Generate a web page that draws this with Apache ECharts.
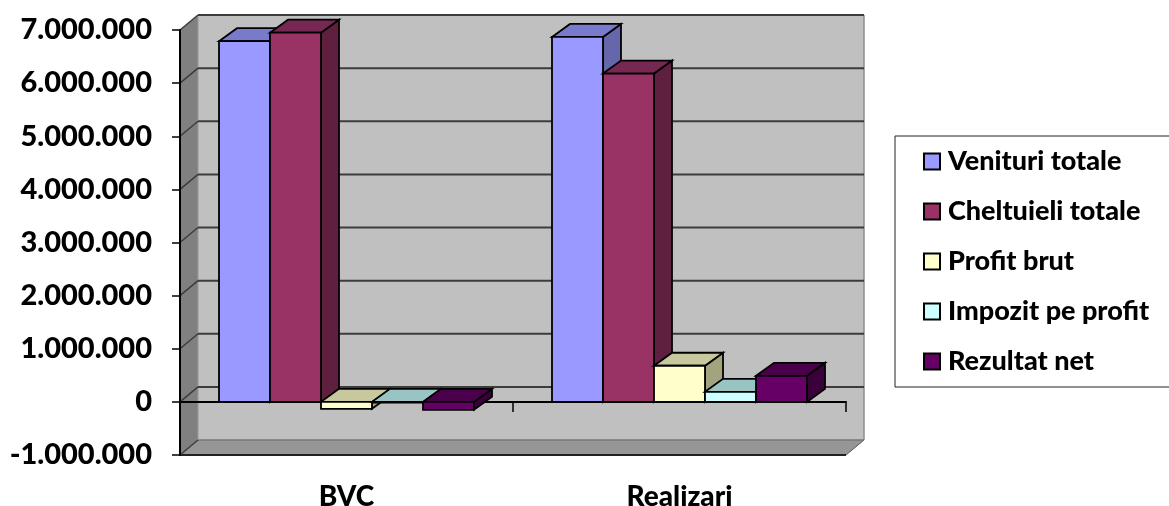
<!DOCTYPE html>
<html><head><meta charset="utf-8">
<style>html,body{margin:0;padding:0;background:#fff}#c{width:1169px;height:506px}</style>
<script src="https://cdn.jsdelivr.net/npm/echarts@6/dist/echarts.min.js"></script>
</head><body><div id="c"></div>
<script>
const categories = ['BVC', 'Realizari'];
const venituriTotale = [6790000, 6870000];
const cheltuieliTotale = [6950000, 6180000];
const profitBrut = [-130000, 680000];
const impozitPeProfit = [-15000, 190000];
const rezultatNet = [-150000, 490000];
const yTicks = [-1000000, 0, 1000000, 2000000, 3000000, 4000000, 5000000, 6000000, 7000000];
const yTickLabels = ['-1.000.000', '0', '1.000.000', '2.000.000', '3.000.000', '4.000.000', '5.000.000', '6.000.000', '7.000.000'];

const FONT = 'Lato';
const WALL_DX = 18, WALL_DY = -15, BAR_DX = 18, BAR_DY = -13;
const BAR_RATIO = 51 / 333;
const seriesDefs = [
  { name: 'Venituri totale', values: venituriTotale, front: '#9999ff', top: '#7a7acc', side: '#6666aa' },
  { name: 'Cheltuieli totale', values: cheltuieliTotale, front: '#993366', top: '#762852', side: '#5f2040' },
  { name: 'Profit brut', values: profitBrut, front: '#ffffcc', top: '#c8c89f', side: '#a3a380' },
  { name: 'Impozit pe profit', values: impozitPeProfit, front: '#ccffff', top: '#99c4c4', side: '#88aaaa' },
  { name: 'Rezultat net', values: rezultatNet, front: '#660066', top: '#4a004a', side: '#3a003a' }
];

function poly(points, fill, stroke, lw) {
  return { type: 'polygon', shape: { points }, style: { fill, stroke: stroke || 'none', lineWidth: lw || 0 } };
}
function line(x1, y1, x2, y2, stroke, lw) {
  return { type: 'line', shape: { x1, y1, x2, y2 }, style: { stroke, lineWidth: lw } };
}

function renderWalls(params, api) {
  const g = params.coordSys;
  const xl = g.x, xr = g.x + g.width, yt = g.y, yb = g.y + g.height;
  const y = api.coord([0, api.value(0)])[1];
  const children = [];
  if (params.dataIndex === 0) {
    children.push(
      poly([[xl + WALL_DX, yt + WALL_DY], [xr + WALL_DX, yt + WALL_DY], [xr + WALL_DX, yb + WALL_DY], [xl + WALL_DX, yb + WALL_DY]], '#c0c0c0'),
      poly([[xl, yt], [xl + WALL_DX, yt + WALL_DY], [xl + WALL_DX, yb + WALL_DY], [xl, yb]], '#808080'),
      poly([[xl, yb], [xl + WALL_DX, yb + WALL_DY], [xr + WALL_DX, yb + WALL_DY], [xr, yb]], '#969696'),
      line(xr + WALL_DX, yt + WALL_DY, xr + WALL_DX, yb + WALL_DY, '#8c8c8c', 1.5),
      line(xr, yb, xr + WALL_DX, yb + WALL_DY, '#555', 1),
      line(xl + WALL_DX, yb + WALL_DY, xr + WALL_DX, yb + WALL_DY, '#777', 1.5),
      line(xl + WALL_DX, yt + WALL_DY, xl + WALL_DX, yb + WALL_DY, '#999', 1),
      line(xl, yb, xr, yb, '#222', 2)
    );
  } else {
    children.push(line(xl + WALL_DX, y + WALL_DY, xr + WALL_DX, y + WALL_DY, '#3c3c3c', 2));
  }
  children.push(line(xl, y, xl + WALL_DX, y + WALL_DY, '#3c3c3c', 1.5));
  return { type: 'group', children };
}

function barRenderer(def, index) {
  return function (params, api) {
    const cat = api.value(0), val = api.value(1);
    const band = api.size([1, 0])[0];
    const w = band * BAR_RATIO;
    const cx = api.coord([cat, 0])[0];
    const x0 = cx + (index - seriesDefs.length / 2) * w;
    const x1 = x0 + w;
    const y0 = api.coord([cat, 0])[1], yv = api.coord([cat, val])[1];
    const t = Math.min(y0, yv), b = Math.max(y0, yv);
    const s = '#000', lw = 1.8;
    return {
      type: 'group',
      children: [
        poly([[x1, t], [x1 + BAR_DX, t + BAR_DY], [x1 + BAR_DX, b + BAR_DY], [x1, b]], def.side, s, lw),
        poly([[x0, t], [x0 + BAR_DX, t + BAR_DY], [x1 + BAR_DX, t + BAR_DY], [x1, t]], def.top, s, lw),
        poly([[x0, t], [x1, t], [x1, b], [x0, b]], def.front, s, lw)
      ]
    };
  };
}

const chart = echarts.init(document.getElementById('c'), null, { renderer: 'canvas' });
chart.setOption({
  animation: false,
  backgroundColor: '#fff',
  textStyle: { fontFamily: FONT },
  grid: { left: 180, right: 323, top: 30, bottom: 51, containLabel: false, outerBoundsMode: 'none' },
  xAxis: {
    type: 'category', data: categories,
    axisLine: { onZero: true, lineStyle: { color: '#000', width: 2 } },
    axisTick: { show: true, alignWithLabel: false, length: 10, lineStyle: { color: '#000', width: 1.5 } },
    axisLabel: { color: '#000', fontFamily: FONT, fontWeight: 900, fontSize: 28, verticalAlign: 'middle', margin: 42 }
  },
  yAxis: {
    type: 'value', min: -1000000, max: 7000000, interval: 1000000,
    axisLine: { show: true, lineStyle: { color: '#000', width: 2 } },
    axisTick: { show: true, length: 8, lineStyle: { color: '#000', width: 1.5 } },
    splitLine: { show: false },
    axisLabel: {
      color: '#000', fontFamily: FONT, fontWeight: 900, fontSize: 29, margin: 28,
      formatter: v => yTickLabels[yTicks.indexOf(v)]
    }
  },
  legend: {
    orient: 'vertical', left: 895, top: 136,
    padding: [12, 60, 12, 28],
    icon: 'rect',
    itemWidth: 16, itemHeight: 16, itemGap: 23,
    backgroundColor: '#fff', borderColor: '#222', borderWidth: 1,
    data: seriesDefs.map(d => d.name),
    itemStyle: { borderColor: '#000', borderWidth: 2 },
    textStyle: { color: '#000', fontFamily: FONT, fontWeight: 900, fontSize: 27, lineHeight: 25, padding: [0, 0, 0, 3] }
  },
  series: [
    { type: 'custom', id: 'walls', silent: true, z: -1, clip: false, renderItem: renderWalls,
      encode: { y: 0 }, data: yTicks.map(v => [v]) }
  ].concat(seriesDefs.map((d, i) => ({
    type: 'custom', name: d.name, z: 3 + i, clip: false,
    itemStyle: { color: d.front },
    renderItem: barRenderer(d, i),
    encode: { x: 0, y: 1 },
    data: d.values.map((v, c) => [c, v])
  })))
});
</script></body></html>
